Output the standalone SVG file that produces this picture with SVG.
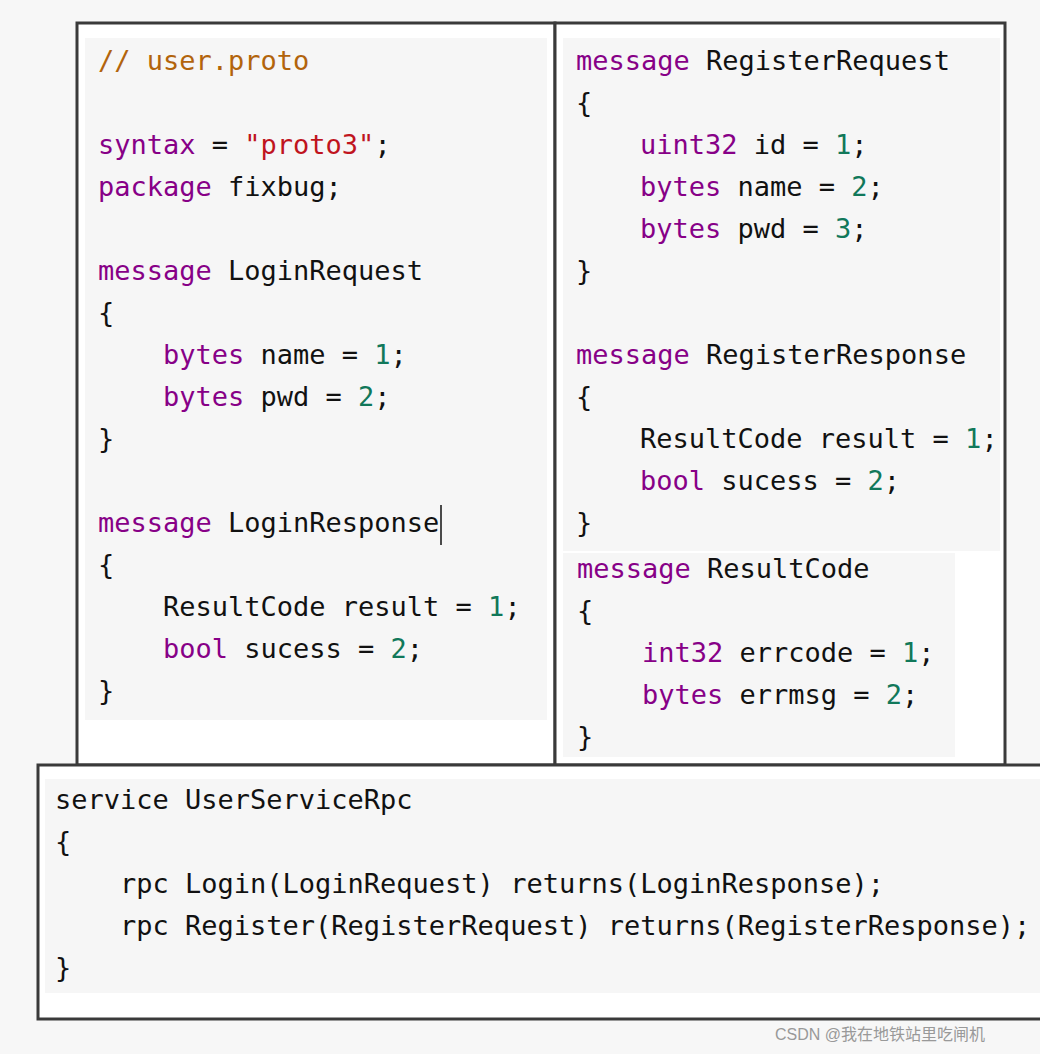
<svg xmlns="http://www.w3.org/2000/svg" width="1040" height="1054" viewBox="0 0 1040 1054">
<style>
text{font-family:"DejaVu Sans Mono","Liberation Mono",monospace;font-size:27px;fill:#111;white-space:pre}
.k{fill:#870087}.c{fill:#b2640c}.s{fill:#c0141e}.n{fill:#11785a}
.frame{fill:#fff;stroke:#3a3a3a;stroke-width:3}
.code{fill:#f6f6f6}
.wm{font-family:"Liberation Sans","Noto Sans CJK SC",sans-serif;font-size:16px;fill:#999}
</style>
<rect width="1040" height="1054" fill="#f7f7f7"/>
<g id="left">
<rect class="frame" x="77" y="23" width="478" height="742"/>
<rect class="code" x="85" y="38" width="462" height="682"/>
<text x="98" y="70" class="c">// user.proto</text>
<text x="98" y="154"><tspan class="k">syntax</tspan> = <tspan class="s">"proto3"</tspan>;</text>
<text x="98" y="196"><tspan class="k">package</tspan> fixbug;</text>
<text x="98" y="280"><tspan class="k">message</tspan> LoginRequest</text>
<text x="98" y="322">{</text>
<text x="163" y="364"><tspan class="k">bytes</tspan> name = <tspan class="n">1</tspan>;</text>
<text x="163" y="406"><tspan class="k">bytes</tspan> pwd = <tspan class="n">2</tspan>;</text>
<text x="98" y="448">}</text>
<text x="98" y="532"><tspan class="k">message</tspan> LoginResponse</text>
<line x1="441" y1="505" x2="441" y2="545" stroke="#111" stroke-width="1.5"/>
<text x="98" y="574">{</text>
<text x="163" y="616">ResultCode result = <tspan class="n">1</tspan>;</text>
<text x="163" y="658"><tspan class="k">bool</tspan> sucess = <tspan class="n">2</tspan>;</text>
<text x="98" y="700">}</text>
</g>
<g id="right">
<rect class="frame" x="555" y="23" width="450" height="742"/>
<rect class="code" x="563" y="38" width="437" height="513"/>
<text x="576" y="70"><tspan class="k">message</tspan> RegisterRequest</text>
<text x="576" y="112">{</text>
<text x="640" y="154"><tspan class="k">uint32</tspan> id = <tspan class="n">1</tspan>;</text>
<text x="640" y="196"><tspan class="k">bytes</tspan> name = <tspan class="n">2</tspan>;</text>
<text x="640" y="238"><tspan class="k">bytes</tspan> pwd = <tspan class="n">3</tspan>;</text>
<text x="576" y="280">}</text>
<text x="576" y="364"><tspan class="k">message</tspan> RegisterResponse</text>
<text x="576" y="406">{</text>
<text x="640" y="448">ResultCode result = <tspan class="n">1</tspan>;</text>
<text x="640" y="490"><tspan class="k">bool</tspan> sucess = <tspan class="n">2</tspan>;</text>
<text x="576" y="532">}</text>
<rect class="code" x="563" y="553" width="392" height="204"/>
<text x="577" y="578"><tspan class="k">message</tspan> ResultCode</text>
<text x="577" y="620">{</text>
<text x="642" y="662"><tspan class="k">int32</tspan> errcode = <tspan class="n">1</tspan>;</text>
<text x="642" y="704"><tspan class="k">bytes</tspan> errmsg = <tspan class="n">2</tspan>;</text>
<text x="577" y="746">}</text>
</g>
<g id="bottom">
<rect class="frame" x="38" y="765" width="1010" height="254"/>
<rect class="code" x="45" y="779" width="995" height="214"/>
<text x="55" y="809">service UserServiceRpc</text>
<text x="55" y="851">{</text>
<text x="120" y="893">rpc Login(LoginRequest) returns(LoginResponse);</text>
<text x="120" y="935">rpc Register(RegisterRequest) returns(RegisterResponse);</text>
<text x="55" y="977">}</text>
</g>
<g id="connectors"/>
<text class="wm" x="775" y="1040">CSDN @我在地铁站里吃闸机</text>
</svg>
